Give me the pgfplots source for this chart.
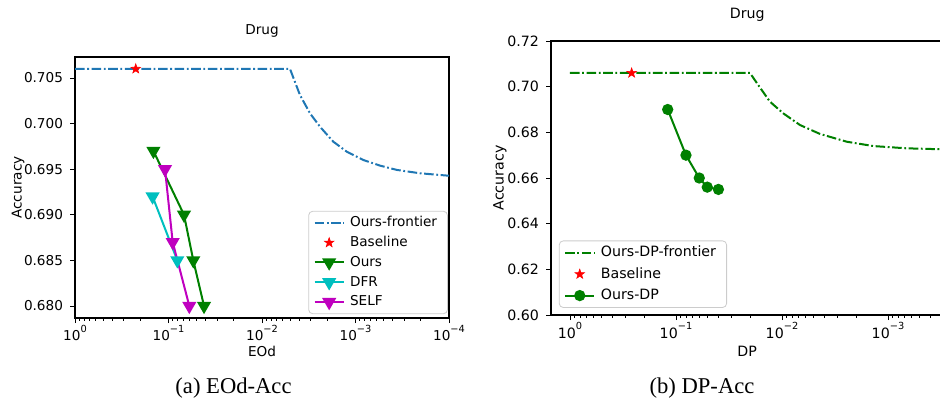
\documentclass[border=0pt]{standalone}
\usepackage{pgfplots}
\pgfplotsset{compat=1.18}
\usepackage{fontspec}
\setmainfont{DejaVu Sans}
\newfontfamily\capfont{Liberation Serif}
\usetikzlibrary{plotmarks}
\definecolor{mplblue}{HTML}{1F77B4}
\definecolor{mplgreen}{HTML}{008000}
\definecolor{mplcyan}{HTML}{00BFBF}
\definecolor{mplmag}{HTML}{BF00BF}
\newcommand\expo[1]{\raisebox{0.62em}{\fontsize{4.9}{5}\selectfont #1}}
\pgfdeclareplotmark{fstar}{%
  \pgfpathmoveto{\pgfqpointpolar{90}{\pgfplotmarksize}}%
  \pgfpathlineto{\pgfqpointpolar{126}{0.4\pgfplotmarksize}}%
  \pgfpathlineto{\pgfqpointpolar{162}{\pgfplotmarksize}}%
  \pgfpathlineto{\pgfqpointpolar{198}{0.4\pgfplotmarksize}}%
  \pgfpathlineto{\pgfqpointpolar{234}{\pgfplotmarksize}}%
  \pgfpathlineto{\pgfqpointpolar{270}{0.4\pgfplotmarksize}}%
  \pgfpathlineto{\pgfqpointpolar{306}{\pgfplotmarksize}}%
  \pgfpathlineto{\pgfqpointpolar{342}{0.4\pgfplotmarksize}}%
  \pgfpathlineto{\pgfqpointpolar{18}{\pgfplotmarksize}}%
  \pgfpathlineto{\pgfqpointpolar{54}{0.4\pgfplotmarksize}}%
  \pgfpathclose\pgfusepathqfillstroke}
\tikzset{mpldashdot/.style={line width=1pt, dash pattern=on 4.8pt off 1.3pt on 0.9pt off 1.3pt}}
\pgfplotsset{
  legend image code/.code={\draw[mark repeat=2,mark phase=2,#1] plot coordinates {(0pt,0pt) (7.25pt,0pt) (14.5pt,0pt)};},
}
\begin{document}
\begin{tikzpicture}
% ---------- (a) ----------
\begin{axis}[
  scale only axis,
  xmode=log, x dir=reverse,
  at={(37.5pt,43pt)}, anchor=south west,
  width=187pt, height=130.5pt,
  xmin=1e-4, xmax=1,
  ymin=0.67868, ymax=0.7073,
  tick align=outside, tick pos=left,
  major tick length=2.5pt, minor tick length=1.4pt,
  axis line style={line width=0.55pt},
  every tick/.style={black, line width=0.45pt},
  xtick={1,0.1,0.01,0.001,0.0001},
  xticklabels={10\expo{0},10\expo{−1},10\expo{−2},10\expo{−3},10\expo{−4}},
  xticklabel style={yshift=2.5pt},
  minor xtick={2e-4,3e-4,4e-4,5e-4,6e-4,7e-4,8e-4,9e-4,2e-3,3e-3,4e-3,5e-3,6e-3,7e-3,8e-3,9e-3,2e-2,3e-2,4e-2,5e-2,6e-2,7e-2,8e-2,9e-2,0.2,0.3,0.4,0.5,0.6,0.7,0.8,0.9},
  ytick={0.680,0.685,0.690,0.695,0.700,0.705},
  yticklabel style={/pgf/number format/.cd, fixed, fixed zerofill, precision=3, assume math mode=true},
  ticklabel style={font=\fontsize{6.8}{8}\selectfont},
  title={Drug}, xlabel={EOd}, ylabel={Accuracy},
  label style={font=\fontsize{6.8}{8}\selectfont},
  title style={font=\fontsize{6.8}{8}\selectfont, at={(axis description cs:0.5,1)}, anchor=base, yshift=5.25pt},
  xlabel style={at={(axis description cs:0.5,0)}, anchor=base, yshift=-19.3pt},
  ylabel style={at={(axis description cs:-0.143,0.5)}, anchor=base},
  legend cell align=left,
  legend style={at={(0.997,0.015)}, anchor=south east,
    draw=black!20, rounded corners=2pt, fill=white,
    font=\fontsize{6.8}{8}\selectfont,
    row sep=3.3pt, inner xsep=2.5pt, inner ysep=2.5pt,
    nodes={inner xsep=2.7pt, inner ysep=0pt, text height=5.2pt, text depth=1.4pt}},
]
\addplot[mplblue, mpldashdot, no markers] coordinates {
 (1,0.706) (5.02e-3,0.706) (3.93e-3,0.70314) (3.07e-3,0.70113) (2.40e-3,0.69966)
 (1.73e-3,0.69802) (1.24e-3,0.69692) (8.26e-4,0.69601) (5.47e-4,0.69539)
 (3.62e-4,0.69492) (2.04e-4,0.69455) (1e-4,0.69428)};
\addlegendentry{Ours-frontier}
\addplot[only marks, mark=fstar, mark size=2.5pt, red, mark options={fill=red, line width=0.3pt}] coordinates {(0.224,0.706)};
\addlegendentry{Baseline}
\addplot[mplgreen, line width=1pt, mark=triangle*, mark size=3.1pt, mark options={rotate=180, fill=mplgreen, solid}] coordinates {
 (0.145,0.697) (0.0683,0.690) (0.0543,0.685) (0.0417,0.680)};
\addlegendentry{Ours}
\addplot[mplcyan, line width=1pt, mark=triangle*, mark size=3.1pt, mark options={rotate=180, fill=mplcyan, solid}] coordinates {
 (0.148,0.692) (0.0805,0.685)};
\addlegendentry{DFR}
\addplot[mplmag, line width=1pt, mark=triangle*, mark size=3.1pt, mark options={rotate=180, fill=mplmag, solid}] coordinates {
 (0.109,0.695) (0.0902,0.687) (0.0599,0.680)};
\addlegendentry{SELF}
\end{axis}
% ---------- (b) ----------
\begin{axis}[
  scale only axis,
  xmode=log, x dir=reverse,
  at={(275.5pt,44.5pt)}, anchor=south west,
  width=196.2pt, height=137pt,
  xmin=3e-4, xmax=1.51,
  ymin=0.60, ymax=0.72,
  tick align=outside, tick pos=left,
  major tick length=2.5pt, minor tick length=1.4pt,
  axis line style={line width=0.55pt},
  every tick/.style={black, line width=0.45pt},
  xtick={1,0.1,0.01,0.001,0.0001},
  xticklabels={10\expo{0},10\expo{−1},10\expo{−2},10\expo{−3},10\expo{−4}},
  xticklabel style={yshift=2.5pt},
  minor xtick={2e-4,3e-4,4e-4,5e-4,6e-4,7e-4,8e-4,9e-4,2e-3,3e-3,4e-3,5e-3,6e-3,7e-3,8e-3,9e-3,2e-2,3e-2,4e-2,5e-2,6e-2,7e-2,8e-2,9e-2,0.2,0.3,0.4,0.5,0.6,0.7,0.8,0.9},
  ytick={0.60,0.62,0.64,0.66,0.68,0.70,0.72},
  yticklabel style={/pgf/number format/.cd, fixed, fixed zerofill, precision=2, assume math mode=true},
  ticklabel style={font=\fontsize{7.1}{8.4}\selectfont},
  title={Drug}, xlabel={DP}, ylabel={Accuracy},
  label style={font=\fontsize{7.1}{8.4}\selectfont},
  title style={font=\fontsize{7.1}{8.4}\selectfont, at={(axis description cs:0.5,1)}, anchor=base, yshift=5.25pt},
  xlabel style={at={(axis description cs:0.5,0)}, anchor=base, yshift=-20.5pt},
  ylabel style={at={(axis description cs:-0.121,0.5)}, anchor=base},
  legend cell align=left,
  legend style={at={(0.02,0.026)}, anchor=south west,
    draw=black!20, rounded corners=2pt, fill=white,
    font=\fontsize{7.1}{8.4}\selectfont,
    row sep=3.8pt, inner xsep=2.5pt, inner ysep=2.5pt,
    nodes={inner xsep=2.8pt, inner ysep=0pt, text height=5.4pt, text depth=1.5pt}},
]
\addplot[mplgreen, mpldashdot, no markers] coordinates {
 (1,0.706) (0.02004,0.706) (0.01675,0.7007) (0.01297,0.6934) (0.00972,0.6883)
 (0.00676,0.6832) (0.00438,0.6793) (0.00245,0.6759) (0.00138,0.6740)
 (6.67e-4,0.6730) (3.23e-4,0.6726) (2.5e-4,0.6725)};
\addlegendentry{Ours-DP-frontier}
\addplot[only marks, mark=fstar, mark size=2.5pt, red, mark options={fill=red, line width=0.3pt}] coordinates {(0.262,0.706)};
\addlegendentry{Baseline}
\addplot[mplgreen, line width=1pt, mark=*, mark size=2.3pt, mark options={fill=mplgreen, solid}] coordinates {
 (0.1197,0.690) (0.0805,0.670) (0.0603,0.660) (0.0507,0.656) (0.0398,0.655)};
\addlegendentry{Ours-DP}
\end{axis}
\node[font=\capfont\fontsize{11.3}{13}\selectfont, anchor=base] at (116.75pt,5.5pt) {(a) EOd-Acc};
\node[font=\capfont\fontsize{11.3}{13}\selectfont, anchor=base] at (351pt,5.5pt) {(b) DP-Acc};
\pgfresetboundingbox
\useasboundingbox (0,0) rectangle (470pt,202pt);
\end{tikzpicture}
\end{document}
